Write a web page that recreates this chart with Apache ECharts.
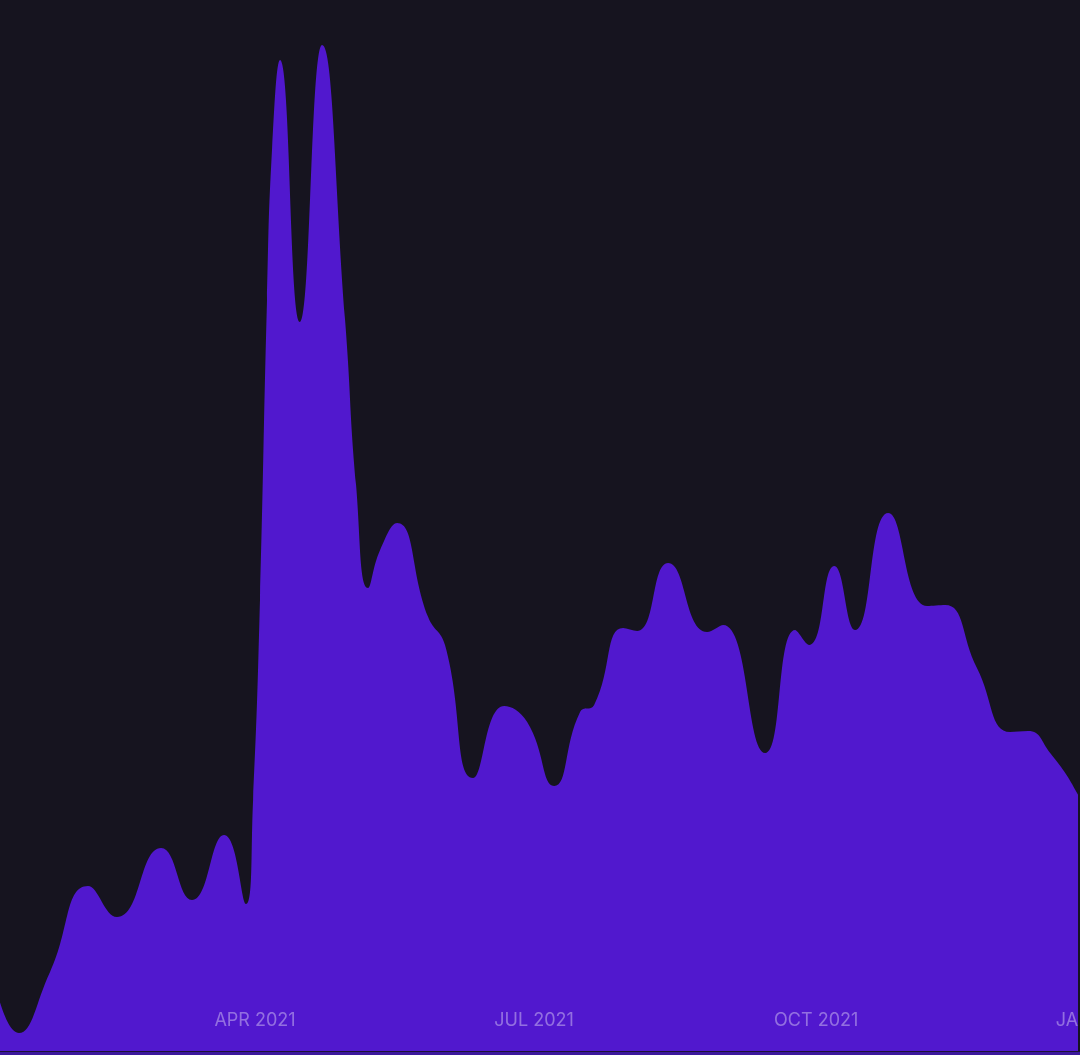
<!DOCTYPE html>
<html>
<head>
<meta charset="utf-8">
<script src="https://cdn.jsdelivr.net/npm/echarts@6/dist/echarts.min.js"></script>
<style>
  html, body { margin: 0; padding: 0; width: 1080px; height: 1055px; overflow: hidden; background: #16141f; }
  #wrap { position: absolute; left: 0; top: 0; width: 1078px; height: 1051px; overflow: hidden; background: #16141f; }
  #chart { position: absolute; left: 0; top: 0; width: 1157px; height: 1051px; }
  #edge { position: absolute; left: 0; top: 1051px; width: 1080px; height: 1px; background: #1d1238; }
  #strip { position: absolute; left: 0; top: 1052px; width: 1080px; height: 3px; background: #3b189c; }
</style>
</head>
<body>
<div id="wrap"><div id="chart"></div></div>
<div id="edge"></div>
<div id="strip"></div>
<script>
const dates = [
  '2021-01-03 22:00', '2021-01-14 01:00', '2021-01-24 04:00', '2021-02-05 13:00',
  '2021-02-15 00:00', '2021-03-01 09:00', '2021-03-11 11:00', '2021-03-21 22:00',
  '2021-03-29 02:00', '2021-03-31 09:00', '2021-04-02 15:00', '2021-04-04 22:00',
  '2021-04-06 13:00', '2021-04-09 04:00', '2021-04-15 17:00', '2021-04-22 21:00',
  '2021-04-30 09:00', '2021-05-03 23:00', '2021-05-07 21:00', '2021-05-11 19:00',
  '2021-05-17 08:00',
  '2021-05-27 11:00', '2021-06-01 23:00', '2021-06-11 03:00', '2021-06-21 06:00',
  '2021-06-28 18:00', '2021-07-07 13:00', '2021-07-16 00:00', '2021-07-20 14:00',
  '2021-07-30 01:00', '2021-08-03 15:00', '2021-08-13 17:00', '2021-08-26 10:00',
  '2021-08-31 16:00', '2021-09-14 09:00', '2021-09-24 03:00', '2021-09-28 17:00',
  '2021-10-06 21:00', '2021-10-13 17:00', '2021-10-24 11:00', '2021-11-06 05:00',
  '2021-11-12 01:00', '2021-11-22 10:00', '2021-12-03 06:00',
  '2021-12-09 03:00', '2021-12-16 07:00', '2021-12-25 10:00', '2022-01-01 14:00'
];
// Values at those dates
const values = [
  100,  18,  79, 165,
  134, 203, 151, 216,
  147, 251, 451, 751,
  901, 991, 729, 1006,
  731, 566, 463, 501,
  528,
  434, 406, 273, 345,
  329, 265, 339, 346,
  423, 420, 488, 419,
  426, 298, 421, 406,
  485, 421, 538, 445,
  446, 383, 319,
  320, 298, 256, 206
];
// Axis tick label months (quarters) and names
const tickMonths = [0, 3, 6, 9];
const monthNames = ['JAN', 'FEB', 'MAR', 'APR', 'MAY', 'JUN', 'JUL', 'AUG', 'SEP', 'OCT', 'NOV', 'DEC'];

const toTs = s => {
  const [d, t] = s.split(' ');
  const [Y, M, D] = d.split('-').map(Number);
  const [h, m] = (t || '00:00').split(':').map(Number);
  return new Date(Y, M - 1, D, h, m).getTime();
};
const seriesData = dates.map((d, i) => [toTs(d), values[i]]);
const DAY = 86400000;

const chart = echarts.init(document.getElementById('chart'), null, { renderer: 'canvas' });
chart.setOption({
  backgroundColor: '#16141f',
  animation: false,
  grid: { left: 0, right: 0, top: 0, bottom: 0, containLabel: false },
  xAxis: {
    type: 'time',
    min: toTs('2021-01-07 20:24'),
    max: toTs('2022-01-20 03:00'),
    minInterval: 27 * DAY,
    maxInterval: 32 * DAY,
    axisLine: { show: false },
    axisTick: { show: false },
    splitLine: { show: false },
    axisLabel: {
      inside: true,
      margin: 21,
      showMinLabel: false,
      showMaxLabel: false,
      hideOverlap: false,
      interval: 0,
      color: 'rgba(255,255,255,0.38)',
      fontFamily: 'Inter',
      fontSize: 18,
      formatter: function (v) {
        const d = new Date(v);
        if (d.getDate() === 1 && d.getHours() === 0 && tickMonths.indexOf(d.getMonth()) >= 0) {
          return monthNames[d.getMonth()] + ' ' + d.getFullYear();
        }
        return '';
      }
    },
    z: 10
  },
  yAxis: {
    type: 'value',
    min: 0,
    max: 1051,
    show: false,
    splitLine: { show: false }
  },
  series: [{
    type: 'line',
    data: seriesData,
    smooth: 0.5,
    symbol: 'none',
    lineStyle: { width: 0, color: '#5118ce' },
    areaStyle: { color: '#5118ce', opacity: 1 },
    z: 2
  }]
});
</script>
</body>
</html>
